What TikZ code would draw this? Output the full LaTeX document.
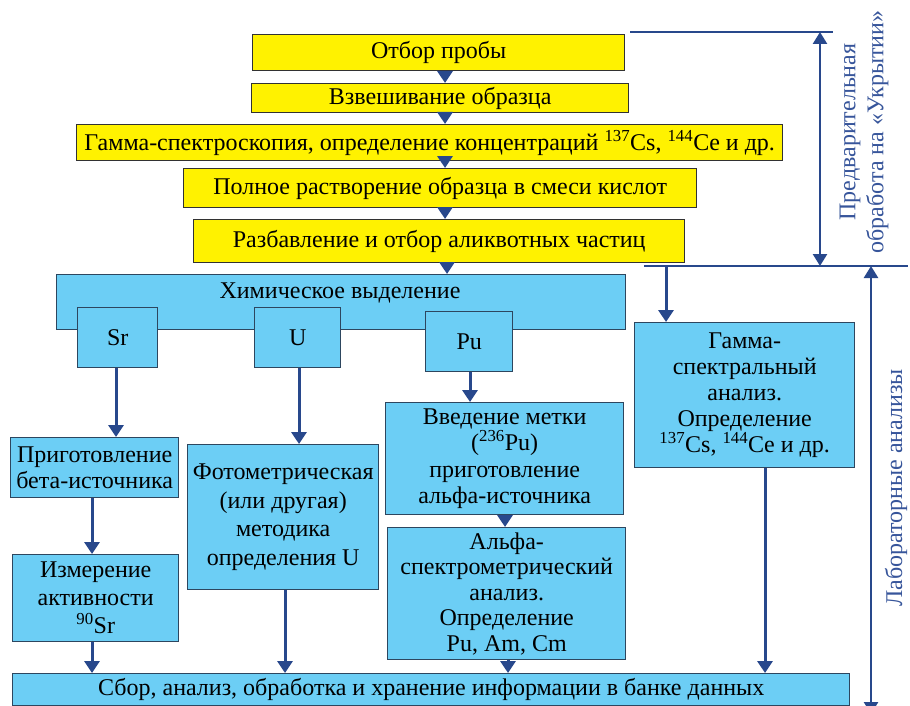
\documentclass[tikz,border=0pt]{standalone}
\usepackage{fontspec}
\setmainfont{Liberation Serif}
\usetikzlibrary{arrows.meta}
\definecolor{yel}{RGB}{255,242,0}
\definecolor{cya}{RGB}{108,206,245}
\definecolor{arb}{RGB}{40,72,140}
\definecolor{txb}{RGB}{55,85,155}
\definecolor{bord}{RGB}{50,50,50}
\definecolor{cbord}{RGB}{45,70,95}
\begin{document}
\begin{tikzpicture}[x=1pt,y=-1pt,
  ybox/.style={draw=bord,line width=1.4pt,fill=yel,inner sep=0pt,align=center,anchor=north west,font=\fontsize{24}{27}\selectfont},
  cbox/.style={draw=cbord,line width=1.4pt,fill=cya,inner sep=0pt,align=center,anchor=north west,font=\fontsize{24}{27}\selectfont},
  arr/.style={draw=arb,line width=3pt,-{Triangle[width=15pt,length=12pt]}},
  darr/.style={draw=arb,line width=2.5pt,{Triangle[width=14pt,length=12pt]}-{Triangle[width=14pt,length=12pt]}},
  rule/.style={draw=arb,line width=2pt},
  rot/.style={rotate=90,text=txb,align=center,font=\fontsize{24}{28}\selectfont}]
\useasboundingbox (0,0) rectangle (910,706);
\clip (0,0) rectangle (910,706);
\fill[white] (0,0) rectangle (910,706);
% yellow boxes
\node[ybox,minimum width=372pt,minimum height=36pt] (b1) at (252,34) {Отбор пробы};
\node[ybox,minimum width=377pt,minimum height=29pt] (b2) at (251,83) {Взвешивание образца};
\node[ybox,minimum width=706pt,minimum height=36pt] (b3) at (76,124) {Гамма-спектроскопия, определение концентраций \textsuperscript{137}Cs, \textsuperscript{144}Ce и др.};
\node[ybox,minimum width=513pt,minimum height=39pt] (b4) at (183,168) {Полное растворение образца в смеси кислот};
\node[ybox,minimum width=491pt,minimum height=43pt] (b5) at (193,219) {Разбавление и отбор аликвотных частиц};
% chemical separation
\node[cbox,minimum width=569pt,minimum height=55pt] (chem) at (56,274) {};
\node[font=\fontsize{24}{27}\selectfont] (chemt) at (340,293) {Химическое выделение};
\node[cbox,minimum width=80pt,minimum height=60pt] (sr) at (77,307) {Sr};
\node[cbox,minimum width=86pt,minimum height=60pt] (u) at (254,307) {U};
\node[cbox,minimum width=87pt,minimum height=60pt] (pu) at (425,311) {Pu};
% branches
\node[cbox,minimum width=220pt,minimum height=145pt,font=\fontsize{24}{26}\selectfont] (gam) at (634,322) {Гамма-\\спектральный\\анализ.\\Определение\\\textsuperscript{137}Cs, \textsuperscript{144}Ce и др.};
\node[cbox,minimum width=168pt,minimum height=60pt,font=\fontsize{24}{26}\selectfont] (prep) at (10,437) {Приготовление\\бета-источника};
\node[cbox,minimum width=166pt,minimum height=87pt,font=\fontsize{24}{28}\selectfont] (izm) at (12,554) {Измерение\\активности\\\textsuperscript{90}Sr};
\node[cbox,minimum width=191pt,minimum height=145pt,font=\fontsize{24}{28.5}\selectfont] (foto) at (187,444) {Фотометрическая\\(или другая)\\методика\\определения U};
\node[cbox,minimum width=238pt,minimum height=112pt,font=\fontsize{24}{26.5}\selectfont] (vved) at (385,402) {Введение метки\\(\textsuperscript{236}Pu)\\приготовление\\альфа-источника};
\node[cbox,minimum width=238pt,minimum height=132pt,font=\fontsize{24}{25.5}\selectfont] (alfa) at (387,527) {Альфа-\\спектрометрический\\анализ.\\Определение\\Pu, Am, Cm};
\node[cbox,minimum width=837pt,minimum height=32pt] (bank) at (12,673) {Сбор, анализ, обработка и хранение информации в банке данных};
% column coordinates
\coordinate (cy) at (445,0);
\coordinate (cc) at (447,0);
\coordinate (c1) at (116,0);
\coordinate (c2) at (92,0);
\coordinate (c3) at (299,0);
\coordinate (c4) at (285,0);
\coordinate (c5) at (470,0);
\coordinate (c6) at (505,0);
\coordinate (c7) at (508,0);
\coordinate (c8) at (765,0);
% arrows
\draw[arr] (b1.south -| cy) -- (b2.north -| cy);
\draw[arr] (b2.south -| cy) -- (b3.north -| cy);
\draw[arr] (b3.south -| cy) -- (b4.north -| cy);
\draw[arr] (b4.south -| cy) -- (b5.north -| cy);
\draw[arr] (b5.south -| cc) -- (chem.north -| cc);
\draw[arr] (sr.south -| c1) -- (prep.north -| c1);
\draw[arr] (prep.south -| c2) -- (izm.north -| c2);
\draw[arr] (izm.south -| c2) -- (bank.north -| c2);
\draw[arr] (u.south -| c3) -- (foto.north -| c3);
\draw[arr] (foto.south -| c4) -- (bank.north -| c4);
\draw[arr] (pu.south -| c5) -- (vved.north -| c5);
\draw[arr] (vved.south -| c6) -- (alfa.north -| c6);
\draw[arr] (alfa.south -| c7) -- (bank.north -| c7);
\draw[arr] (gam.south -| c8) -- (bank.north -| c8);
% right side rules
\coordinate (t1) at (630,32);
\coordinate (t2) at (833,32);
\coordinate (s1) at (644,266);
\coordinate (s2) at (908,266);
\coordinate (g1) at (666,266);
\coordinate (d1) at (820,32);
\coordinate (d2) at (820,266);
\coordinate (l1) at (871,266);
\coordinate (l2) at (871,714);
\draw[rule] (t1) -- (t2);
\draw[rule] (s1) -- (s2);
\draw[arr] (g1) -- (g1 |- gam.north);
\draw[darr] (d1) -- (d2);
\draw[darr] (l1) -- (l2);
\node[rot] (pre) at (864,132) {Предварительная\\обработа на «Укрытии»};
\node[rot] (lab) at (896,488) {Лабораторные анализы};
\end{tikzpicture}
\end{document}
